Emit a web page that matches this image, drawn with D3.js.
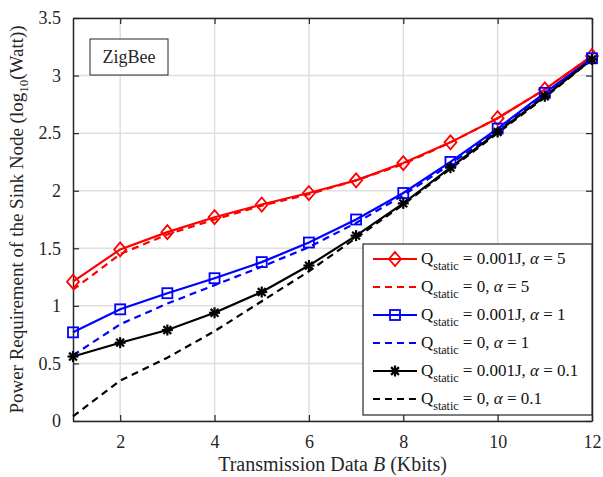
<!DOCTYPE html>
<html>
<head>
<meta charset="utf-8">
<script src="https://cdn.jsdelivr.net/npm/d3@7"></script>
<style>
body { margin: 0; background: #fff; }
</style>
</head>
<body>
<svg id="chart" width="603" height="477"></svg>
<script>
// Data
const xValues = [1, 2, 3, 4, 5, 6, 7, 8, 9, 10, 11, 12];
const redSolid   = [1.21, 1.49, 1.64, 1.77, 1.88, 1.98, 2.09, 2.24, 2.42, 2.63, 2.88, 3.17];
const redDash    = [1.14, 1.45, 1.62, 1.75, 1.87, 1.97, 2.09, 2.23, 2.42, 2.63, 2.88, 3.17];
const blueSolid  = [0.77, 0.97, 1.11, 1.24, 1.38, 1.55, 1.75, 1.98, 2.25, 2.54, 2.85, 3.15];
const blueDash   = [0.57, 0.84, 1.02, 1.18, 1.34, 1.51, 1.72, 1.96, 2.23, 2.52, 2.84, 3.15];
const blackSolid = [0.56, 0.68, 0.79, 0.94, 1.12, 1.35, 1.61, 1.89, 2.20, 2.51, 2.82, 3.14];
const blackDash  = [0.04, 0.35, 0.55, 0.78, 1.04, 1.30, 1.59, 1.88, 2.19, 2.50, 2.81, 3.14];

const xTicks = [2, 4, 6, 8, 10, 12];
const yTicks = [0, 0.5, 1, 1.5, 2, 2.5, 3, 3.5];

const series = [
    { values: redSolid,   color: "#ff0000", dash: null,  marker: "diamond", alpha: "5",   q: "0.001J" },
    { values: redDash,    color: "#ff0000", dash: "7,5", marker: null,      alpha: "5",   q: "0" },
    { values: blueSolid,  color: "#0000ff", dash: null,  marker: "square",  alpha: "1",   q: "0.001J" },
    { values: blueDash,   color: "#0000ff", dash: "7,5", marker: null,      alpha: "1",   q: "0" },
    { values: blackSolid, color: "#000000", dash: null,  marker: "star",    alpha: "0.1", q: "0.001J" },
    { values: blackDash,  color: "#000000", dash: "7,5", marker: null,      alpha: "0.1", q: "0" }
];

const FONT = "'Liberation Serif', 'Times New Roman', 'DejaVu Serif', serif";

const margin = { left: 73, right: 11, top: 18, bottom: 56 };
const width = 603 - margin.left - margin.right;
const height = 477 - margin.top - margin.bottom;

const svg = d3.select("#chart").attr("font-family", FONT);
const g = svg.append("g").attr("transform", `translate(${margin.left},${margin.top})`);

const x = d3.scaleLinear().domain([1, 12]).range([0, width]);
const y = d3.scaleLinear().domain([0, 3.5]).range([height, 0]);

// grid
g.selectAll(".gx").data(xTicks).enter().append("line")
    .attr("x1", d => x(d)).attr("x2", d => x(d))
    .attr("y1", 0).attr("y2", height)
    .attr("stroke", "#dfdfdf").attr("stroke-width", 1.5);
g.selectAll(".gy").data(yTicks).enter().append("line")
    .attr("x1", 0).attr("x2", width)
    .attr("y1", d => y(d)).attr("y2", d => y(d))
    .attr("stroke", "#dfdfdf").attr("stroke-width", 1.5);

// axes
const fmt = d => d === 0 ? "0" : String(d);
g.append("g").attr("transform", `translate(0,${height})`)
    .call(d3.axisBottom(x).tickValues(xTicks).tickSizeInner(-6).tickSizeOuter(0).tickPadding(14).tickFormat(fmt));
g.append("g")
    .call(d3.axisLeft(y).tickValues(yTicks).tickSizeInner(-6).tickSizeOuter(0).tickPadding(12).tickFormat(fmt));
g.append("g").call(d3.axisTop(x).tickValues(xTicks).tickSizeInner(-6).tickSizeOuter(0).tickFormat(""));
g.append("g").attr("transform", `translate(${width},0)`)
    .call(d3.axisRight(y).tickValues(yTicks).tickSizeInner(-6).tickSizeOuter(0).tickFormat(""));
g.selectAll(".domain").attr("stroke", "#262626").attr("stroke-width", 1.5);
g.selectAll(".tick line").attr("stroke", "#262626").attr("stroke-width", 1.2);
g.selectAll(".tick text").attr("font-family", FONT).attr("font-size", 18).attr("fill", "#262626");

// lines
const line = d3.line().x((d, i) => x(xValues[i])).y(d => y(d));
series.forEach(s => {
    g.append("path").datum(s.values)
        .attr("d", line)
        .attr("fill", "none")
        .attr("stroke", s.color)
        .attr("stroke-width", 2.2)
        .attr("stroke-dasharray", s.dash);
});

function drawMarker(sel, type, color, cx, cy) {
    if (type === "diamond") {
        sel.append("path")
            .attr("d", `M${cx},${cy - 7}L${cx + 6},${cy}L${cx},${cy + 7}L${cx - 6},${cy}Z`)
            .attr("fill", "none").attr("stroke", color).attr("stroke-width", 1.8);
    } else if (type === "square") {
        sel.append("rect").attr("x", cx - 5).attr("y", cy - 5).attr("width", 10).attr("height", 10)
            .attr("fill", "none").attr("stroke", color).attr("stroke-width", 1.8);
    } else if (type === "star") {
        const r = 5.5;
        for (let a = 0; a < 180; a += 45) {
            const rad = a * Math.PI / 180;
            sel.append("line")
                .attr("x1", cx - r * Math.cos(rad)).attr("y1", cy - r * Math.sin(rad))
                .attr("x2", cx + r * Math.cos(rad)).attr("y2", cy + r * Math.sin(rad))
                .attr("stroke", color).attr("stroke-width", 2.2);
        }
    }
}

series.filter(s => s.marker).forEach(s => {
    const mg = g.append("g");
    s.values.forEach((v, i) => drawMarker(mg, s.marker, s.color, x(xValues[i]), y(v)));
});

// ZigBee label box
g.append("rect").attr("x", 17).attr("y", 21).attr("width", 78).attr("height", 36)
    .attr("fill", "#fff").attr("stroke", "#262626").attr("stroke-width", 1);
g.append("text").attr("x", 56).attr("y", 45).attr("text-anchor", "middle")
    .attr("font-size", 18).attr("fill", "#262626").text("ZigBee");

// legend
const lg = svg.append("g").attr("transform", "translate(363,244)");
lg.append("rect").attr("width", 229).attr("height", 171)
    .attr("fill", "#fff").attr("stroke", "#262626").attr("stroke-width", 1.2);
series.forEach((s, i) => {
    const ry = 15 + i * 28;
    lg.append("line").attr("x1", 10).attr("x2", 54).attr("y1", ry).attr("y2", ry)
        .attr("stroke", s.color).attr("stroke-width", 2.2).attr("stroke-dasharray", s.dash);
    if (s.marker) drawMarker(lg, s.marker, s.color, 32, ry);
    const t = lg.append("text").attr("x", 58).attr("y", ry + 5).attr("font-size", 17).attr("fill", "#111");
    t.append("tspan").text("Q");
    t.append("tspan").attr("dy", 6).attr("font-size", 12).text("static");
    t.append("tspan").attr("dy", -6).text(` = ${s.q}, `);
    t.append("tspan").attr("font-style", "italic").text("α");
    t.append("tspan").text(` = ${s.alpha}`);
});

// axis titles
const xt = svg.append("text").attr("x", margin.left + width / 2).attr("y", 471)
    .attr("text-anchor", "middle").attr("font-size", 20).attr("fill", "#262626");
xt.append("tspan").text("Transmission Data ");
xt.append("tspan").attr("font-style", "italic").text("B");
xt.append("tspan").text(" (Kbits)");

const yt = svg.append("text").attr("transform", `translate(23,${margin.top + height / 2}) rotate(-90)`)
    .attr("text-anchor", "middle").attr("font-size", 19).attr("fill", "#262626");
yt.append("tspan").text("Power Requirement of the Sink Node (log");
yt.append("tspan").attr("dy", 5).attr("font-size", 13).text("10");
yt.append("tspan").attr("dy", -5).text("(Watt))");
</script>
</body>
</html>
